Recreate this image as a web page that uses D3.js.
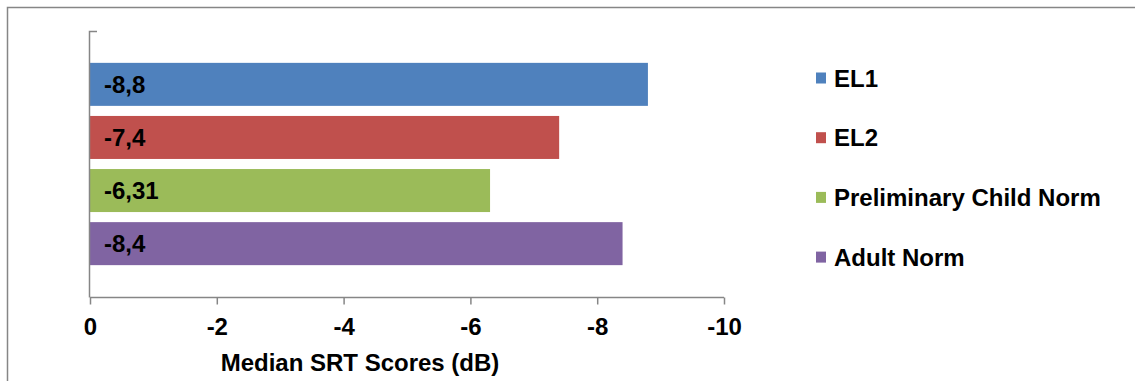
<!DOCTYPE html>
<html><head><meta charset="utf-8">
<script src="https://cdn.jsdelivr.net/npm/d3@7"></script>
<style>body{margin:0;background:#fff}svg{display:block}text{font-family:"Liberation Sans",Arial,sans-serif;font-weight:bold;fill:#000}</style>
</head><body><svg id="c" width="1135" height="381"></svg>
<script>
const series = ["EL1", "EL2", "Preliminary Child Norm", "Adult Norm"];
const values = [-8.8, -7.4, -6.31, -8.4];
const labels = ["-8,8", "-7,4", "-6,31", "-8,4"];
const colors = ["#4F81BD", "#C0504D", "#9BBB59", "#8064A2"];
const ticks = [0, -2, -4, -6, -8, -10];
const axisTitle = "Median SRT Scores (dB)";

const FS = 24;
const svg = d3.select("#c");
const gray = "#868686";
// outer frame
svg.append("rect").attr("x", 7.5).attr("y", 7.5).attr("width", 1140).attr("height", 400)
  .attr("fill", "none").attr("stroke", gray).attr("stroke-width", 1.5);

const x = d3.scaleLinear().domain([0, -10]).range([90, 724]);
const y = d3.scaleBand().domain(series).range([31, 297]).paddingInner(0.19).paddingOuter(0.6);

svg.selectAll("rect.bar").data(series).join("rect").attr("class", "bar")
  .attr("x", x(0)).attr("y", d => y(d))
  .attr("width", (d, i) => x(values[i]) - x(0)).attr("height", y.bandwidth())
  .attr("fill", (d, i) => colors[i]);

svg.selectAll("text.lbl").data(series).join("text").attr("class", "lbl")
  .attr("x", x(0) + 14).attr("y", d => y(d) + y.bandwidth() / 2).attr("dy", "0.36em")
  .attr("font-size", FS).text((d, i) => labels[i]);

// x axis
const xa = svg.append("g").attr("transform", "translate(0,297.5)")
  .call(d3.axisBottom(x).tickValues(ticks).tickSize(7).tickPadding(13).tickFormat(d => d === 0 ? "0" : String(d)));
xa.select(".domain").attr("stroke", gray).attr("stroke-width", 1.5).attr("d", "M90,0H724");
xa.selectAll(".tick line").attr("stroke", gray).attr("stroke-width", 1.5);
xa.selectAll(".tick text").attr("font-size", FS).attr("font-family", "Liberation Sans, Arial, sans-serif").attr("fill", "#000").attr("font-weight", "bold");

// y axis line
svg.append("path").attr("d", "M89.5,297.5V31.5H97").attr("fill", "none").attr("stroke", gray).attr("stroke-width", 1.5);

svg.append("text").attr("x", 360).attr("y", 362).attr("dy", "0.36em").attr("text-anchor", "middle")
  .attr("font-size", FS).text(axisTitle);

// legend
const lg = svg.selectAll("g.lg").data(series).join("g").attr("class", "lg")
  .attr("transform", (d, i) => `translate(816,${78 + i * 59.7})`);
lg.append("rect").attr("x", 0).attr("y", -5.5).attr("width", 10).attr("height", 11).attr("fill", (d, i) => colors[i]);
lg.append("text").attr("x", 18).attr("y", 0).attr("dy", "0.36em").attr("font-size", FS).text(d => d);
</script></body></html>
